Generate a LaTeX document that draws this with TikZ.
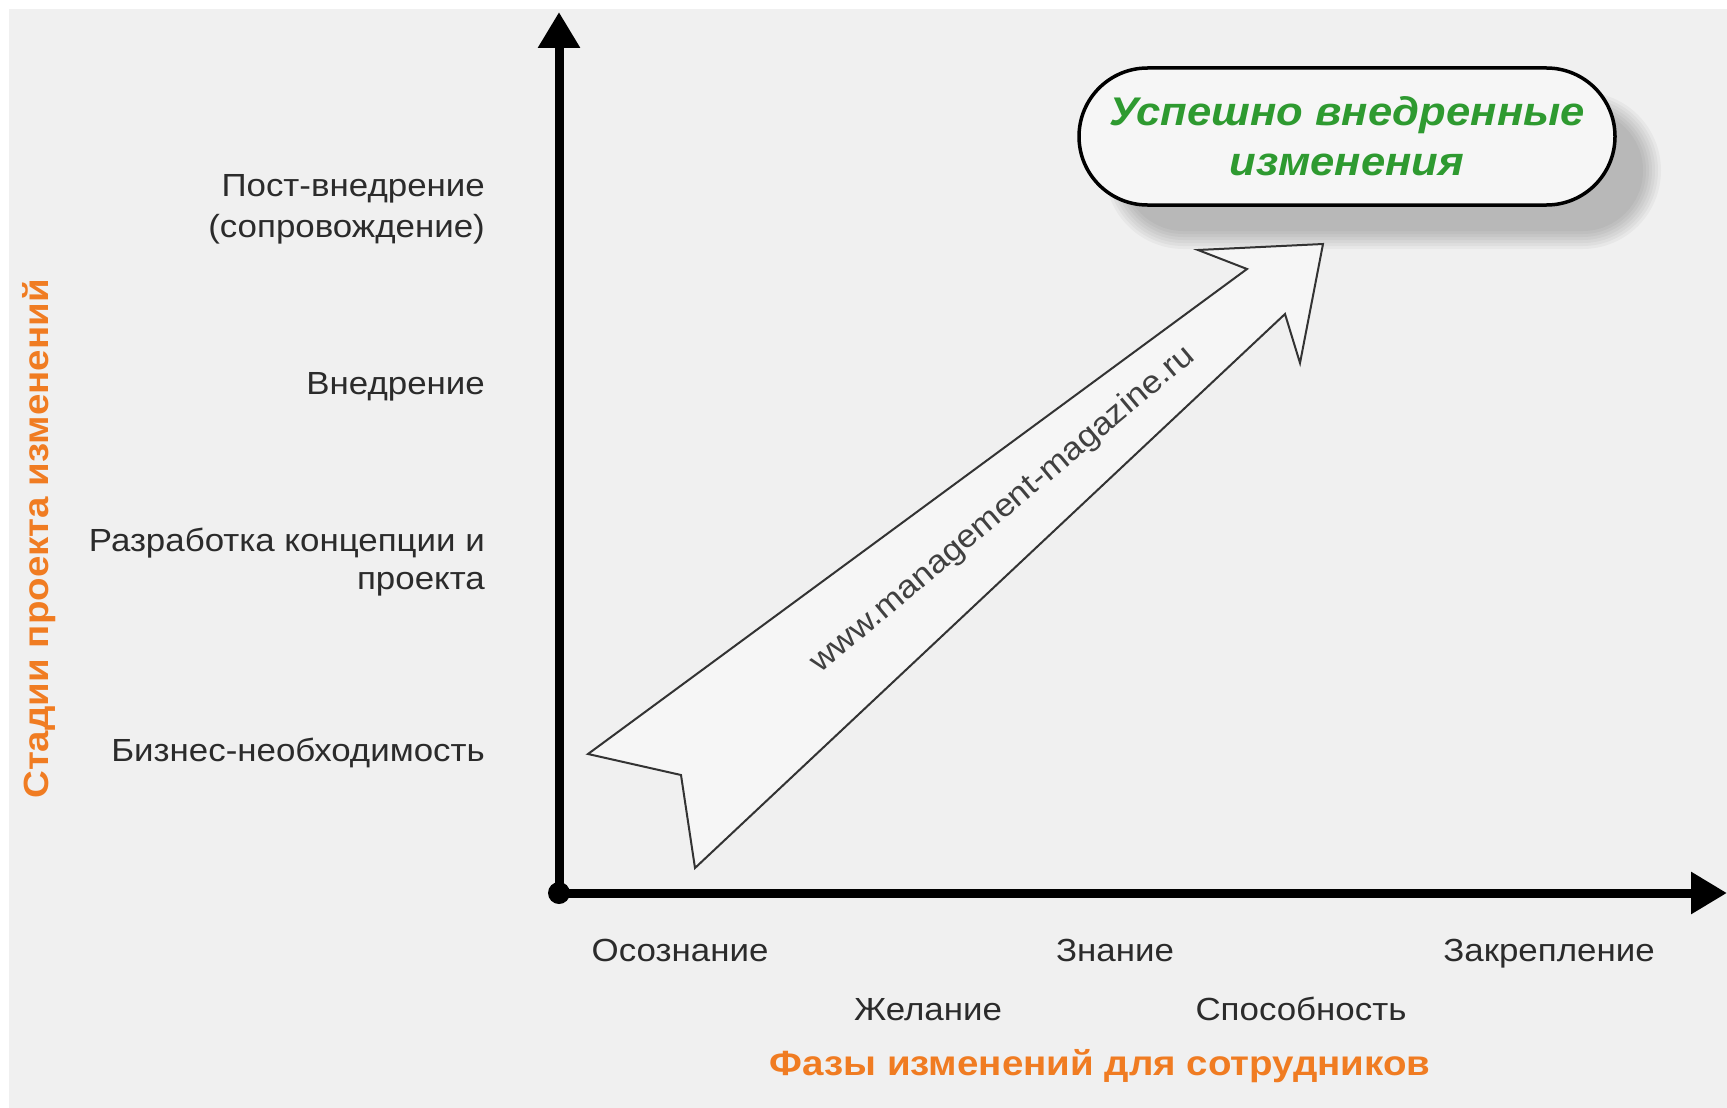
\documentclass[tikz,border=0pt]{standalone}
\usepackage{fontspec}
\setmainfont[FakeStretch=1.09]{Liberation Sans}
\newfontfamily\titlefont[FakeStretch=1.1]{Liberation Sans}
\usetikzlibrary{arrows.meta,shapes.misc}
\definecolor{bg}{HTML}{F0F0F0}
\definecolor{orng}{HTML}{F07C22}
\definecolor{grn}{HTML}{2E9A30}
\definecolor{lbl}{HTML}{2B2B2B}
\definecolor{boxfill}{HTML}{F6F6F6}
\begin{document}
\begin{tikzpicture}[x=1pt,y=-1pt,
  axis/.style={line width=9pt,black,-{Triangle[length=36pt,width=40pt]}},
  ylab/.style={anchor=east,align=right,text=lbl,font=\fontsize{32}{41}\selectfont,inner sep=0pt},
  xlab/.style={anchor=center,text=lbl,font=\fontsize{32}{41}\selectfont,inner sep=0pt},
  axtitle/.style={text=orng,font=\titlefont\fontsize{35}{40}\selectfont\bfseries,inner sep=0pt},
  bigarrow/.style={draw=black!80,line width=2pt,fill=boxfill,line join=miter},
  goalbox/.style={rounded rectangle,draw=black,line width=3.5pt,fill=boxfill,
    minimum width=536pt,minimum height=137pt,inner sep=0pt,align=center,
    text=grn,font=\fontsize{40}{50}\selectfont\bfseries\itshape}]
\useasboundingbox (0,0) rectangle (1727,1108);
\fill[white] (0,0) rectangle (1727,1108);
\fill[bg] (9,9) rectangle (1727,1108);

% shadow of goal box
\foreach \e in {10,7,4,1,-2,-5,-8}{
  \fill[black,opacity=0.034,rounded corners={68.5pt+\e pt}]
    ({1115-\e},{102-\e}) rectangle ({1651+\e},{239+\e});
}
\node[goalbox] (goal) at (1347,136.5) {Успешно внедренные\\изменения};

% axes
\coordinate (O) at (559,893);
\coordinate (ytop) at (559,12);
\coordinate (xend) at (1727,893);
\draw[axis] (O) -- (ytop);
\draw[axis] (O) -- (xend);
\fill[black] (O) circle (11pt);

% big arrow
\coordinate (t1) at (588,754);
\coordinate (t2) at (681,775);
\coordinate (t3) at (695,868);
\coordinate (h5) at (1285,314);
\coordinate (h4) at (1300,363);
\coordinate (h3) at (1323,244);
\coordinate (h2) at (1198,250);
\coordinate (h1) at (1247,269);
\draw[bigarrow] (t1) -- (t2) -- (t3) -- (h5) -- (h4) -- (h3) -- (h2) -- (h1) -- cycle;
\node[rotate=40,text=black!75,font=\fontsize{32}{40}\selectfont,inner sep=0pt] (url) at (1003,510) {www.management-magazine.ru};

% y labels
\node[ylab] (post) at (485,209) {Пост-внедрение\\(сопровождение)};
\node[ylab] (impl) at (485,387) {Внедрение};
\node[ylab,font=\fontsize{32}{38}\selectfont] (design) at (485,562) {Разработка концепции и\\проекта};
\node[ylab] (biz) at (485,753) {Бизнес-необходимость};
\node[axtitle,rotate=90] (ytitle) at (39,539) {Стадии проекта изменений};

% x labels
\node[xlab,anchor=base] (aware) at (680,961) {Осознание};
\node[xlab,anchor=base] (desire) at (928,1020) {Желание};
\node[xlab,anchor=base] (know) at (1115,961) {Знание};
\node[xlab,anchor=base] (abil) at (1301,1020) {Способность};
\node[xlab,anchor=base] (reinf) at (1549,961) {Закрепление};
\node[axtitle] (xtitle) at (1100,1066) {Фазы изменений для сотрудников};
\end{tikzpicture}
\end{document}
